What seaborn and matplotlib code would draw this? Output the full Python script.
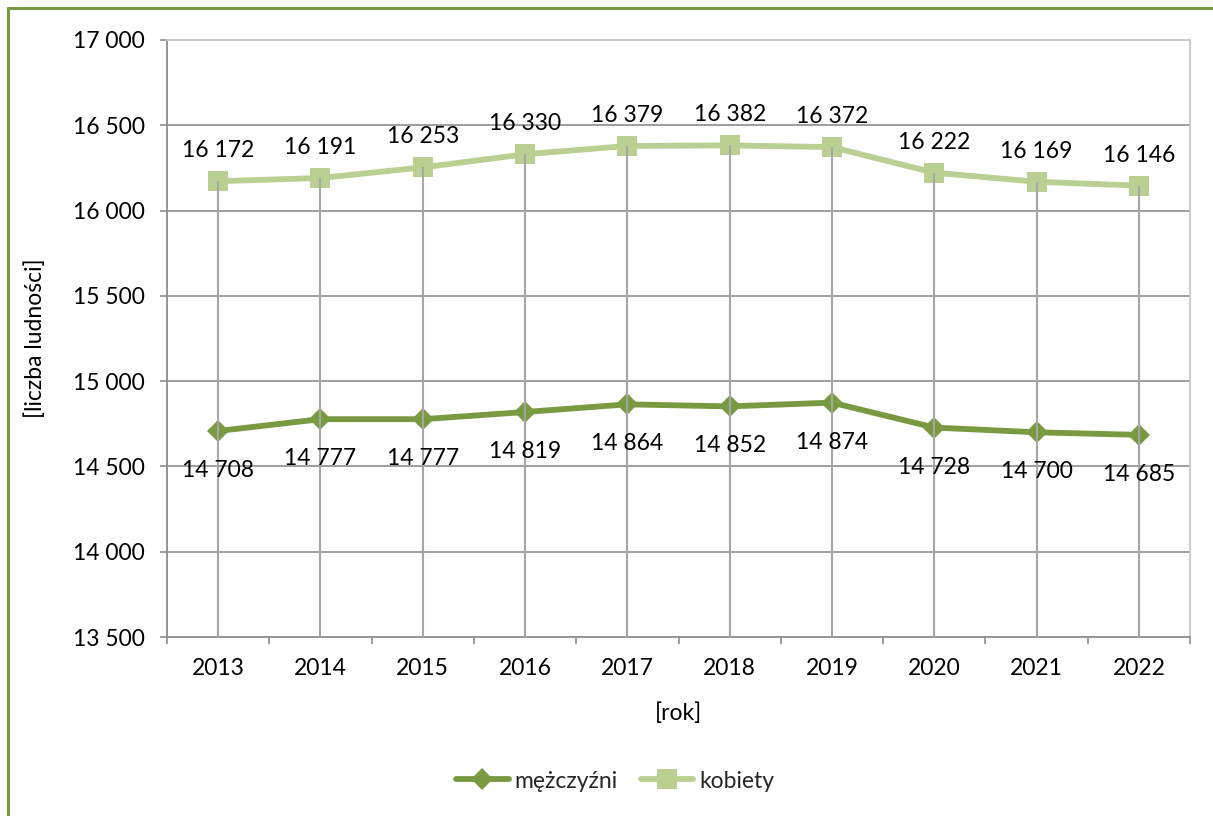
import numpy as np
import pandas as pd
import seaborn as sns
import matplotlib.pyplot as plt
from matplotlib.lines import Line2D
from matplotlib.ticker import FixedLocator, FuncFormatter

# ---- data ----
years = ['2013', '2014', '2015', '2016', '2017', '2018', '2019', '2020', '2021', '2022']
mezczyzni = [14708, 14777, 14777, 14819, 14864, 14852, 14874, 14728, 14700, 14685]
kobiety = [16172, 16191, 16253, 16330, 16379, 16382, 16372, 16222, 16169, 16146]
yticks = [13500, 14000, 14500, 15000, 15500, 16000, 16500, 17000]
series_names = ['mężczyźni', 'kobiety']
x_label = '[rok]'
y_label = '[liczba ludności]'

# ---- style ----
c_men = '#7A9A42'
c_women = '#BACF92'
c_grid = '#8C8C8C'
c_light = '#C8C8C8'
c_drop = '#A6A6A6'
FS = 16.5

sns.set_theme(style='white')
plt.rcParams['font.family'] = ['Lato', 'DejaVu Sans']

W, H = 1213, 816
fig = plt.figure(figsize=(W / 100, H / 100), dpi=100)
L, R, T, B = 167, 1190, 40, 637
ax = fig.add_axes([L / W, 1 - B / H, (R - L) / W, (B - T) / H])

x = np.arange(len(years))
df = pd.DataFrame({'x': x, series_names[0]: mezczyzni, series_names[1]: kobiety})

sns.lineplot(data=df, x='x', y=series_names[1], ax=ax, color=c_women, lw=4.2,
             marker='s', markersize=14.5, markeredgewidth=0, zorder=3)
sns.lineplot(data=df, x='x', y=series_names[0], ax=ax, color=c_men, lw=4.2,
             marker='D', markersize=11.5, markeredgewidth=0, zorder=3)

# drop lines
ax.vlines(x, yticks[0], kobiety, color=c_drop, lw=1.5, zorder=5)

# horizontal gridlines
for yv in yticks[1:-1]:
    ax.axhline(yv, color=c_grid, lw=1.2, zorder=1)

ax.set_xlim(-0.5, len(years) - 0.5)
ax.set_ylim(yticks[0], yticks[-1])

fmt = lambda v: f"{int(v):,}".replace(',', ' ')
ax.yaxis.set_major_locator(FixedLocator(yticks))
ax.yaxis.set_major_formatter(FuncFormatter(lambda v, p: fmt(v)))
ax.set_xticks(x)
ax.set_xticklabels(years)
ax.set_xticks(np.arange(-0.5, len(years)), minor=True)

ax.tick_params(axis='y', which='major', direction='out', length=5, width=1.2,
               color=c_grid, labelsize=FS, pad=11, labelcolor='black', left=True)
ax.tick_params(axis='x', which='major', length=0, labelsize=FS, pad=15, labelcolor='black')
ax.tick_params(axis='x', which='minor', direction='out', length=5, width=1.2,
               color=c_grid, bottom=True)

for s in ['left', 'bottom']:
    ax.spines[s].set_color(c_grid)
    ax.spines[s].set_linewidth(1.3)
for s in ['top', 'right']:
    ax.spines[s].set_color(c_light)
    ax.spines[s].set_linewidth(1.3)
ax.grid(False)

# data labels
for i, v in enumerate(kobiety):
    ax.annotate(fmt(v), (i, v), xytext=(0, 22), textcoords='offset points',
                ha='center', va='center', fontsize=FS, color='black', zorder=6)
for i, v in enumerate(mezczyzni):
    ax.annotate(fmt(v), (i, v), xytext=(0, -28.5), textcoords='offset points',
                ha='center', va='center', fontsize=FS, color='black', zorder=6)

ax.set_xlabel(x_label, fontsize=FS, color='black')
ax.set_ylabel(y_label, fontsize=FS, color='black')
ax.xaxis.set_label_coords(0.5, (B - 713) / (B - T), transform=ax.transAxes)
ax.yaxis.set_label_coords((35 - L) / (R - L), 0.5, transform=ax.transAxes)
ax.xaxis.label.set_va('center')
ax.yaxis.label.set_va('center')

# legend
handles = [
    Line2D([], [], color=c_men, lw=4.2, marker='D', markersize=11.5, markeredgewidth=0),
    Line2D([], [], color=c_women, lw=4.2, marker='s', markersize=14.5, markeredgewidth=0),
]
fig.legend(handles, series_names, loc='center', bbox_to_anchor=(615 / W, 1 - 781 / H),
           ncol=2, frameon=False, fontsize=FS, handlelength=2.3, handletextpad=0.25,
           columnspacing=1.0)

# outer border (left & top visible)
fig.add_artist(Line2D([7.5 / W, 7.5 / W], [0, 1 - 7.5 / H], transform=fig.transFigure,
                      color='#7A9A42', lw=2.2))
fig.add_artist(Line2D([7.5 / W, 1], [1 - 7.5 / H, 1 - 7.5 / H], transform=fig.transFigure,
                      color='#7A9A42', lw=2.2))

fig.savefig('out.png', dpi=100, facecolor='white')
